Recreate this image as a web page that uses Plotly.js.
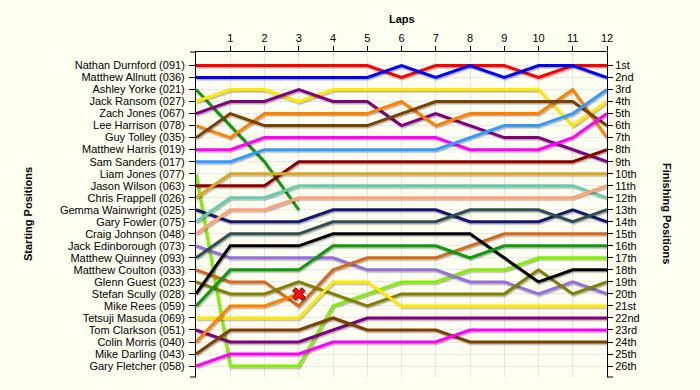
<!DOCTYPE html>
<html><head><meta charset="utf-8">
<script src="https://cdn.plot.ly/plotly-3.0.1.min.js"></script>
<style>html,body{margin:0;padding:0;background:#FFFFF2;}#chart{width:700px;height:390px;}</style>
</head><body><div id="chart"></div>
<script>
// ---- data ----
const laps = [0,1,2,3,4,5,6,7,8,9,10,11,12];
const lapTickLabels = ["1","2","3","4","5","6","7","8","9","10","11","12"];
const startNames = ["Nathan Durnford (091)","Matthew Allnutt (036)","Ashley Yorke (021)","Jack Ransom (027)",
  "Zach Jones (067)","Lee Harrison (078)","Guy Tolley (035)","Matthew Harris (019)","Sam Sanders (017)",
  "Liam Jones (077)","Jason Wilson (063)","Chris Frappell (026)","Gemma Wainwright (025)","Gary Fowler (075)",
  "Craig Johnson (048)","Jack Edinborough (073)","Matthew Quinney (093)","Matthew Coulton (033)",
  "Glenn Guest (023)","Stefan Scully (028)","Mike Rees (059)","Tetsuji Masuda (069)","Tom Clarkson (051)",
  "Colin Morris (040)","Mike Darling (043)","Gary Fletcher (058)"];
const finishLabels = ["1st","2nd","3rd","4th","5th","6th","7th","8th","9th","10th","11th","12th","13th",
  "14th","15th","16th","17th","18th","19th","20th","21st","22nd","23rd","24th","25th","26th"];

// lap-by-lap positions (index = lap), one array per driver in starting order
const pDurnford   = [1,1,1,1,1,1,2,1,1,1,2,1,1];
const pAllnutt    = [2,2,2,2,2,2,1,2,1,2,1,1,2];
const pYorke      = [3,6,9,13];
const pRansom     = [4,3,3,4,3,3,3,3,3,3,3,6,4];
const pZJones     = [5,4,4,3,4,4,6,5,6,7,7,8,9];
const pHarrison   = [6,7,5,5,5,5,4,6,5,5,5,3,7];
const pTolley     = [7,5,6,6,6,6,5,4,4,4,4,4,6];
const pHarris     = [8,8,7,7,7,7,7,7,8,8,8,7,5];
const pSanders    = [9,9,8,8,8,8,8,8,7,6,6,5,3];
const pLJones     = [10,26,26,26,21,20,19,19,18,18,17,17,17];
const pWilson     = [11,11,11,9,9,9,9,9,9,9,9,9,8];
const pFrappell   = [12,10,10,10,10,10,10,10,10,10,10,10,10];
const pWainwright = [13,14,14,14,13,13,13,13,14,14,14,13,14];
const pFowler     = [14,12,12,11,11,11,11,11,11,11,11,11,12];
const pJohnson    = [15,13,13,12,12,12,12,12,12,12,12,12,11];
const pEdinborough= [16,17,17,17,17,18,18,18,19,19,20,19,20];
const pQuinney    = [17,15,15,15,14,14,14,14,13,13,13,14,13];
const pCoulton    = [18,19,19,21,18,17,17,17,16,15,15,15,15];
const pGuest      = [19,20,20,19,20,21,20,20,20,20,18,20,19];
const pScully     = [20,16,16,16,15,15,15,15,15,17,19,18,18];
const pRees       = [21,18,18,18,16,16,16,16,17,16,16,16,16];
const pMasuda     = [22,22,22,22,19,19,21,21,21,21,21,21,21];
const pClarkson   = [23,24,24,24,23,22,22,22,22,22,22,22,22];
const pMorris     = [24,21,21,20];
const pDarling    = [25,23,23,23,22,23,23,23,24,24,24,24,24];
const pFletcher   = [26,25,25,25,24,24,24,24,23,23,23,23,23];

const series = [pDurnford,pAllnutt,pYorke,pRansom,pZJones,pHarrison,pTolley,pHarris,pSanders,pLJones,
  pWilson,pFrappell,pWainwright,pFowler,pJohnson,pEdinborough,pQuinney,pCoulton,pGuest,pScully,pRees,
  pMasuda,pClarkson,pMorris,pDarling,pFletcher];
const crashed = [pMorris];

// ---- styles ----
const colors = ["#FF0000","#0000FF","#0A9A0A","#FFE800","#800080","#FF8000","#7B3F00","#FF00FF","#3399FF",
  "#80F000","#8B0000","#DAA520","#191970","#66CDAA","#FFA07A","#9370DB","#2F4F4F","#D2691E","#808000",
  "#000000","#0A9A0A","#FFE800","#800080","#FF8000","#7B3F00","#FF00FF"];

const FONT = "Liberation Sans, Arial, sans-serif";
const traces = series.map((s, i) => ({
  type: "scatter", mode: "lines", x: laps.slice(0, s.length), y: s,
  line: {color: colors[i], width: 3}, hoverinfo: "skip", showlegend: false, name: startNames[i]
}));
crashed.forEach(s => traces.push({
  type: "scatter", mode: "markers", x: [laps[s.length - 1]], y: [s[s.length - 1]],
  marker: {symbol: "x", size: 11, color: "#FF1010", line: {color: "#700000", width: 1}},
  hoverinfo: "skip", showlegend: false
}));
traces.push({type: "scatter", mode: "lines", x: [null], y: [null], yaxis: "y2", showlegend: false, hoverinfo: "skip"});

const yRange = [26.91, -0.12];
const rows = startNames.map((_, i) => i + 1);
const tk = 6/411, tky = 6/325;
const layout = {
  width: 700, height: 390,
  paper_bgcolor: "#FFFFF2", plot_bgcolor: "#FFFFF2",
  margin: {l: 196, r: 93, t: 52, b: 13, pad: 0},
  font: {family: FONT, size: 11, color: "#000"},
  showlegend: false,
  xaxis: {
    range: [0, 12], side: "top", tickvals: laps.slice(1), ticktext: lapTickLabels,
    ticks: "outside", ticklen: 5, tickcolor: "#000", showline: true, linecolor: "#000", linewidth: 1,
    showgrid: true, gridcolor: "#E4E4E4", gridwidth: 1, zeroline: false, fixedrange: true,
    tickfont: {family: FONT, size: 11, color: "#000"}
  },
  yaxis: {
    range: yRange, tickvals: rows, ticktext: startNames, ticks: "outside", ticklen: 6, tickcolor: "#000",
    showline: true, linecolor: "#000", linewidth: 1, showgrid: true, gridcolor: "#E8E8E8", gridwidth: 1,
    zeroline: false, fixedrange: true, ticklabelstandoff: 2,
    tickfont: {family: FONT, size: 11, color: "#000"}
  },
  yaxis2: {
    range: yRange, overlaying: "y", side: "right", tickvals: rows, ticktext: finishLabels,
    ticks: "outside", ticklen: 5, tickcolor: "#000", showline: true, linecolor: "#000", linewidth: 1,
    showgrid: false, zeroline: false, fixedrange: true,
    tickfont: {family: FONT, size: 11, color: "#000"}
  },
  annotations: [
    {text: "<b>Laps</b>", xref: "paper", yref: "paper", x: 0.5, y: 1 + 33/325, showarrow: false,
     xanchor: "center", yanchor: "middle", font: {family: FONT, size: 11, color: "#000"}},
    {text: "<b>Starting Positions</b>", xref: "paper", yref: "paper", x: (28-196)/411, y: 1 - (214-52)/325,
     textangle: -90, showarrow: false, xanchor: "center", yanchor: "middle", font: {family: FONT, size: 11, color: "#000"}},
    {text: "<b>Finishing Positions</b>", xref: "paper", yref: "paper", x: (667-196)/411, y: 1 - (213-52)/325,
     textangle: 90, showarrow: false, xanchor: "center", yanchor: "middle", font: {family: FONT, size: 11, color: "#000"}}
  ],
  shapes: [
    {type: "line", xref: "paper", yref: "paper", x0: -tk, x1: 0, y0: 0, y1: 0, line: {color: "#000", width: 1}},
    {type: "line", xref: "paper", yref: "paper", x0: -tk, x1: 0, y0: 1, y1: 1, line: {color: "#000", width: 1}},
    {type: "line", xref: "paper", yref: "paper", x0: 1, x1: 1 + tk, y0: 0, y1: 0, line: {color: "#000", width: 1}}
  ]
};

Plotly.newPlot("chart", traces, layout, {displayModeBar: false, staticPlot: true}).then(gd => {
  const NS = "http://www.w3.org/2000/svg";
  const svg = gd.querySelector(".main-svg");
  let defs = svg.querySelector("defs");
  if (!defs) { defs = document.createElementNS(NS, "defs"); svg.insertBefore(defs, svg.firstChild); }
  const f = document.createElementNS(NS, "filter");
  f.setAttribute("id", "lineShadow");
  f.setAttribute("filterUnits", "userSpaceOnUse");
  f.setAttribute("x", "-1000"); f.setAttribute("y", "-1000");
  f.setAttribute("width", "4000"); f.setAttribute("height", "4000");
  const ds = document.createElementNS(NS, "feDropShadow");
  ds.setAttribute("dx", "1"); ds.setAttribute("dy", "1.5"); ds.setAttribute("stdDeviation", "0");
  ds.setAttribute("flood-color", "#000"); ds.setAttribute("flood-opacity", "0.3");
  f.appendChild(ds); defs.appendChild(f);
  gd.querySelectorAll(".scatterlayer .trace").forEach(t => t.setAttribute("filter", "url(#lineShadow)"));
});
</script>
</body></html>
